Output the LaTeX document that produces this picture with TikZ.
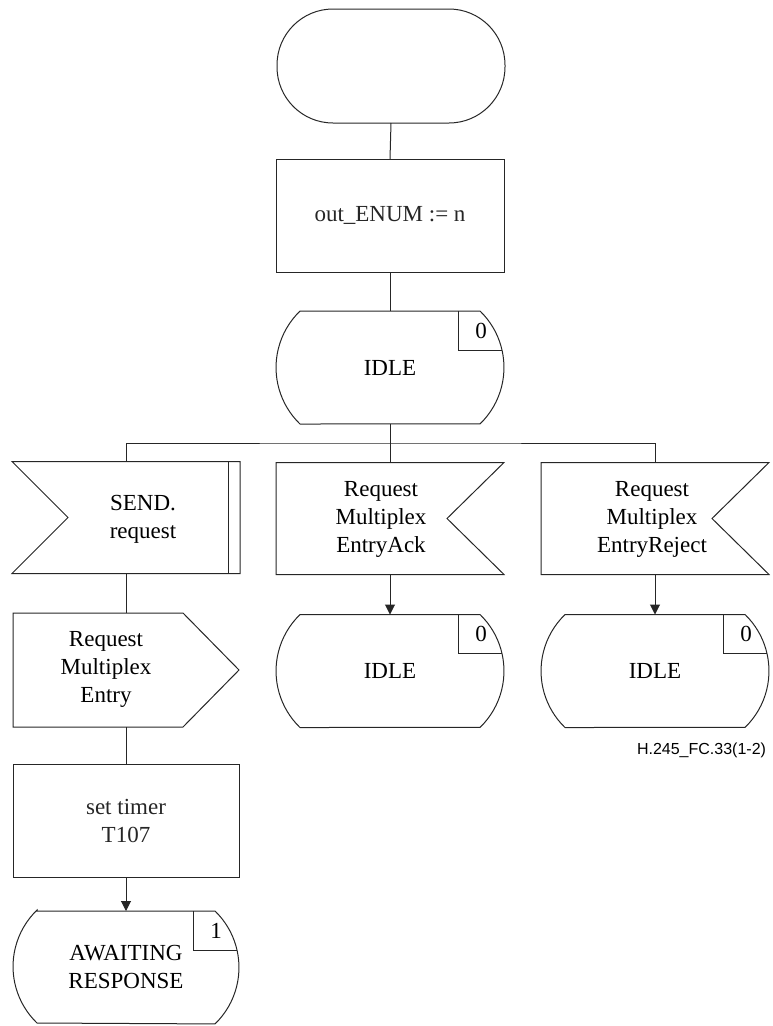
\documentclass[tikz,border=0pt]{standalone}
\usepackage{fontspec}
\setmainfont{Liberation Serif}
\newfontfamily\figlabelfont{Liberation Sans}
\usetikzlibrary{arrows.meta,calc}

\newcommand\drawstate[2]{%
  \draw[ln] ([xshift=24pt]#1.north west) -- ([xshift=-24pt]#1.north east)
    arc[start angle=46,end angle=-46,radius=78.5pt]
    -- ([xshift=24pt]#1.south west)
    arc[start angle=226,end angle=134,radius=78.5pt] -- cycle;
  \draw[ln] ([xshift=-46pt]#1.north east) -- ([xshift=-46pt,yshift=-39pt]#1.north east)
    -- ([xshift=-2pt,yshift=-39pt]#1.north east);
  \node[txt] (#1num) at ([xshift=-23pt,yshift=-19.5pt]#1.north east) {#2};
}
\newcommand\drawinput[1]{%
  \draw[ln] (#1.north west) -- (#1.north east) -- ([xshift=-57pt]#1.east)
    -- (#1.south east) -- (#1.south west) -- cycle;
}
\newcommand\drawinternalinput[1]{%
  \draw[ln] (#1.north west) -- (#1.north east) -- (#1.south east)
    -- (#1.south west) -- ([xshift=56pt]#1.west) -- cycle;
  \draw[ln] ([xshift=-12pt]#1.north east) -- ([xshift=-12pt]#1.south east);
}
\newcommand\drawoutput[1]{%
  \draw[ln] (#1.north west) -- ([xshift=-56pt]#1.north east) -- (#1.east)
    -- ([xshift=-56pt]#1.south east) -- (#1.south west) -- cycle;
}

\begin{document}
\begin{tikzpicture}[x=1pt,y=1pt,
  every node/.style={inner sep=0pt, outer sep=0pt},
  ln/.style={line width=1pt, black!85},
  shp/.style={minimum width=228pt, minimum height=113pt},
  txt/.style={align=center, font=\fontsize{23}{28}\selectfont},
  boxshape/.style={shp, draw, ln, txt},
  termshape/.style={shp, draw, ln, rounded corners=56pt, minimum height=114pt},
  conn/.style={ln},
  arr/.style={ln, -{Triangle[length=10pt,width=10pt]}}
]
\useasboundingbox (0,0) rectangle (773,-1026);

% main column
\node[termshape] (term) at (391,-66) {};
\node[boxshape] (init) at (390,-215.5) {out\_ENUM := n};
\node[shp,txt] (idle1) at (390,-367.5) {IDLE};
\drawstate{idle1}{0}
\coordinate (br) at (390,-443);

% branches
\node[shp, minimum height=112pt] (send) at (126,-517.5) {};
\drawinternalinput{send}
\node[txt] (sendT) at (143,-519) {SEND.\\request};

\node[shp, minimum height=112pt] (ack) at (390,-518.5) {};
\drawinput{ack}
\node[txt] (ackT) at (381,-519) {Request\\Multiplex\\EntryAck};

\node[shp, minimum height=112pt] (rej) at (655,-518.5) {};
\drawinput{rej}
\node[txt] (rejT) at (652,-519) {Request\\Multiplex\\EntryReject};

\node[shp,txt] (idle2) at (390,-671) {IDLE};
\drawstate{idle2}{0}
\node[shp,txt] (idle3) at (655,-671) {IDLE};
\drawstate{idle3}{0}

\node[shp, minimum width=226pt, minimum height=114pt] (out) at (126,-670) {};
\drawoutput{out}
\node[txt] (outT) at (106,-669) {Request\\Multiplex\\Entry};

\node[boxshape, minimum width=226pt] (timer) at (126,-820.5) {set timer\\T107};
\node[shp,txt, minimum width=226pt, minimum height=112pt] (await) at (126,-967) {AWAITING\\RESPONSE};
\drawstate{await}{1}

\node[anchor=east, font=\figlabelfont\fontsize{16}{18}\selectfont] (figlbl) at (766,-750) {H.245\_FC.33(1-2)};

% connectors
\draw[conn] (term.south) -- (init.north);
\draw[conn] (init.south) -- (idle1.south |- idle1.north);
\draw[conn] (idle1.south) -- (ack.north);
\draw[conn] (send.north) |- (br) -| (rej.north);
\draw[arr] (ack.south) -- (idle2.north);
\draw[arr] (rej.south) -- (idle3.north);
\draw[conn] (send.south) -- (out.north);
\draw[conn] (out.south) -- (timer.north);
\draw[arr] (timer.south) -- (await.north);
\end{tikzpicture}
\end{document}
